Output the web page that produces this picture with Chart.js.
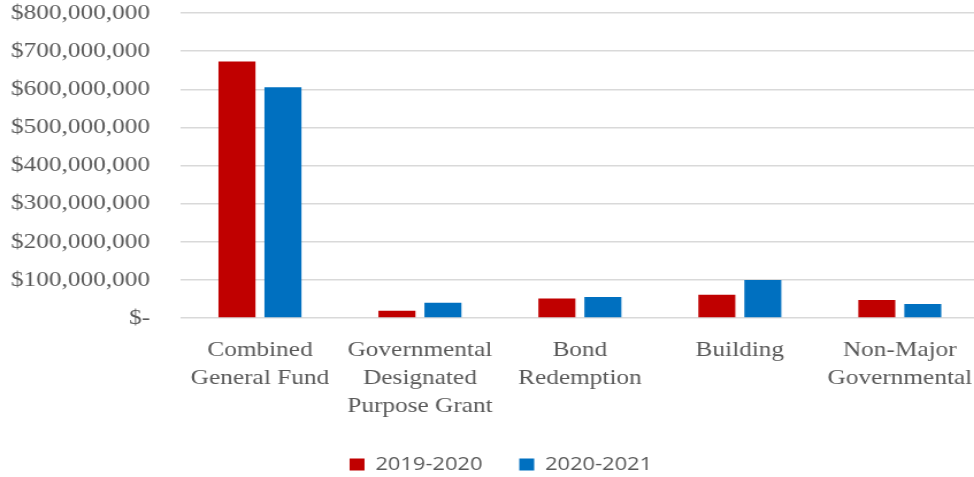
<!DOCTYPE html>
<html>
<head>
<meta charset="utf-8">
<script src="https://cdn.jsdelivr.net/npm/chart.js@4/dist/chart.umd.min.js"></script>
<style>
  html, body { margin: 0; padding: 0; overflow: hidden; background: #fff; width: 974px; height: 477px; }
  #wrap { position: absolute; left: 0; top: 0; width: 852px; height: 484px; transform: scaleX(1.15); transform-origin: 0 0; }
  #c { width: 852px; height: 484px; display: block; }
</style>
</head>
<body>
<div id="wrap"><canvas id="c" width="852" height="484"></canvas></div>
<script>
const categories = [
  ['Combined', 'General Fund'],
  ['Governmental', 'Designated', 'Purpose Grant'],
  ['Bond', 'Redemption'],
  ['Building'],
  ['Non-Major', 'Governmental']
];
const seriesNames = ['2019-2020', '2020-2021'];
const values2019 = [673000000, 19000000, 51000000, 61000000, 47000000];
const values2020 = [605000000, 40000000, 55000000, 100000000, 37000000];
const yTicks = [0, 100000000, 200000000, 300000000, 400000000, 500000000, 600000000, 700000000, 800000000];

function fmt(v) {
  if (v === 0) return '$-';
  return '$' + v.toLocaleString('en-US');
}

const legendShift = {
  id: 'legendShift',
  afterLayout(chart) {
    const lg = chart.legend;
    if (lg) { lg.left += 9.5; lg.right += 9.5; }
  }
};

function zeroPad(s) {
  s.paddingTop = 0; s.paddingBottom = 0; s.paddingLeft = 0; s.paddingRight = 0;
}

new Chart(document.getElementById('c'), {
  type: 'bar',
  data: {
    labels: categories,
    datasets: [
      { label: seriesNames[0], data: values2019, backgroundColor: '#C00000', borderWidth: 0 },
      { label: seriesNames[1], data: values2020, backgroundColor: '#0070C0', borderWidth: 0 }
    ]
  },
  plugins: [legendShift],
  options: {
    responsive: false,
    animation: false,
    devicePixelRatio: 1,
    layout: { autoPadding: false, padding: { top: 13, left: 0, right: 0, bottom: 0 } },
    datasets: { bar: { categoryPercentage: 0.575, barPercentage: 0.804 } },
    plugins: {
      tooltip: { enabled: false },
      legend: {
        position: 'bottom',
        labels: {
          boxWidth: 13, boxHeight: 12, padding: 32,
          color: '#595959',
          font: { family: '"Open Sans", "Liberation Sans", sans-serif', size: 19 }
        }
      }
    },
    scales: {
      x: {
        grid: { display: false, drawTicks: false },
        border: { display: false },
        ticks: {
          color: '#595959', padding: 18, maxRotation: 0, autoSkip: false,
          font: { family: '"Liberation Serif", "Times New Roman", serif', size: 22, lineHeight: 1.27 }
        },
        afterFit: s => { s.height = 105; zeroPad(s); }
      },
      y: {
        min: 0, max: 800000000,
        afterBuildTicks: s => { s.ticks = yTicks.map(v => ({ value: v })); },
        grid: { color: '#d9d9d9', lineWidth: 1.5, drawTicks: false },
        border: { display: false },
        ticks: {
          color: '#595959', padding: 26,
          font: { family: '"Liberation Serif", "Times New Roman", serif', size: 22 },
          callback: v => fmt(v)
        },
        afterFit: s => { s.width = 156.5; zeroPad(s); }
      }
    }
  }
});
</script>
</body>
</html>
